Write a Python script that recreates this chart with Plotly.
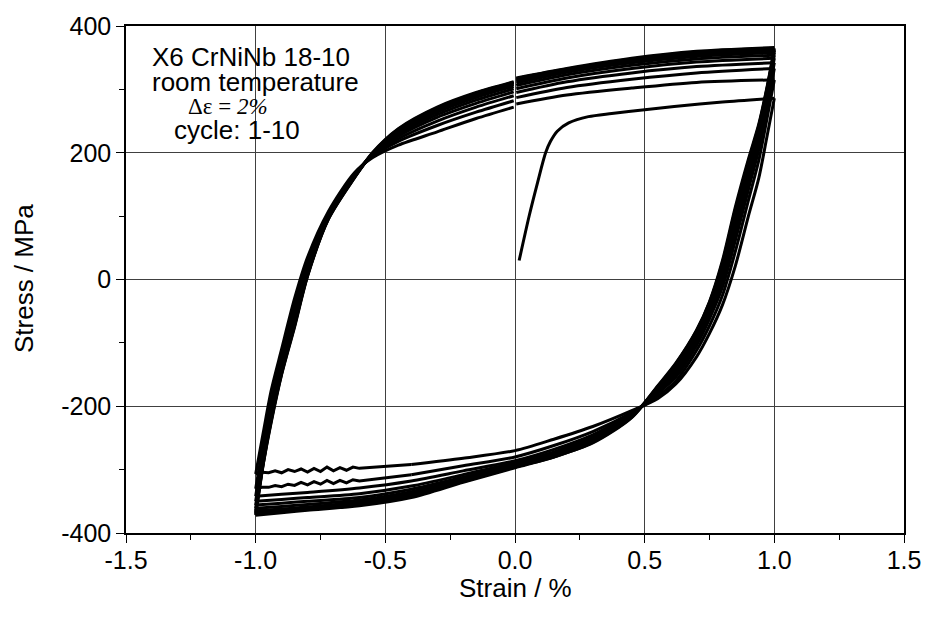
import plotly.graph_objects as go

# ---------------- data ----------------
# initial (monotonic) loading curve
init_strain = [0.016, 0.055, 0.087, 0.118, 0.137, 0.163, 0.207, 0.283, 0.373, 0.5, 0.614, 0.8, 1.0]
init_stress = [30, 101, 153, 200, 218, 234, 247, 257, 262, 268, 273, 280, 286]

# upper (tension-going) branches, strain grid and stress per cycle
upper_strain = [-1.0, -0.97, -0.94, -0.9, -0.85, -0.8, -0.72, -0.62, -0.55, -0.45,
                -0.3, -0.15, -0.005, 0.005, 0.2, 0.45, 0.7, 1.0]
upper_c1 = [-307, -240, -175, -110, -30, 35, 107, 168, 192, 212, 233, 254, 272, 277, 291, 302, 311, 315]
upper_c2 = [-330, -258, -192, -122, -42, 27, 104, 166, 194, 218, 243, 264, 282, 287, 303, 316, 326, 333]
upper_c3 = [-342, -267, -200, -130, -50, 22, 102, 165, 195, 222, 250, 272, 290, 295, 312, 326, 336, 342]
upper_c4 = [-350, -273, -206, -135, -56, 18, 100, 164, 196, 226, 256, 278, 296, 301, 318, 333, 343, 349]
upper_c5 = [-356, -278, -211, -139, -61, 14, 99, 163, 197, 229, 260, 283, 301, 306, 323, 338, 348, 354]
upper_c6 = [-361, -282, -215, -142, -65, 11, 98, 162, 198, 232, 264, 287, 305, 310, 327, 342, 352, 358]
upper_c7 = [-365, -285, -218, -145, -68, 9, 97, 161, 198, 234, 267, 290, 308, 313, 330, 345, 355, 361]
upper_c8 = [-368, -287, -221, -147, -71, 7, 96, 161, 199, 236, 269, 292, 310, 315, 331, 347, 357, 363]
upper_c9 = [-370, -289, -223, -149, -73, 6, 95, 160, 199, 237, 271, 294, 311, 317, 332, 348, 359, 365]
upper_c10 = [-372, -290, -225, -150, -75, 5, 95, 160, 200, 238, 272, 295, 312, 318, 333, 349, 360, 366]

# lower (compression-going) branches, strain grid and stress per cycle
lower_strain = [1.0, 0.97, 0.94, 0.9, 0.85, 0.8, 0.75, 0.7, 0.62, 0.55, 0.45, 0.3,
                0.15, 0.0, -0.2, -0.4, -0.6, -0.8, -0.9, -1.0]
lower_c1 = [286, 222, 160, 100, 22, -40, -85, -122, -165, -188, -207, -232, -252, -270, -282, -292]
lower_c2 = [315, 250, 188, 125, 45, -25, -73, -112, -160, -184, -210, -240, -262, -280, -294, -308]
lower_c3 = [333, 267, 205, 142, 62, -12, -62, -104, -154, -180, -212, -245, -268, -286, -302, -318, -329, -336, -339, -342]
lower_c4 = [342, 276, 215, 153, 75, -2, -55, -98, -149, -177, -213, -248, -272, -289, -308, -326, -338, -344, -347, -350]
lower_c5 = [349, 283, 224, 162, 85, 6, -49, -93, -145, -175, -214, -251, -275, -292, -312, -331, -344, -350, -353, -356]
lower_c6 = [354, 289, 231, 170, 94, 13, -44, -89, -141, -173, -215, -253, -277, -294, -315, -335, -348, -355, -358, -361]
lower_c7 = [358, 293, 236, 177, 102, 19, -40, -86, -138, -171, -216, -255, -278, -295, -317, -338, -351, -359, -362, -365]
lower_c8 = [361, 296, 240, 182, 107, 24, -38, -83, -135, -170, -217, -256, -279, -296, -318, -340, -353, -361, -365, -368]
lower_c9 = [363, 298, 243, 186, 111, 27, -36, -81, -133, -169, -217, -257, -280, -296, -319, -342, -355, -362, -366, -370]
lower_c10 = [365, 300, 245, 190, 115, 30, -35, -80, -132, -168, -218, -258, -280, -297, -320, -344, -357, -364, -368, -372]

# jagged (noisy) compression tails of cycles 1 and 2
tail_strain = [-0.4, -0.5, -0.6, -0.625, -0.65, -0.675, -0.7, -0.725, -0.75, -0.775, -0.8,
               -0.825, -0.85, -0.875, -0.9, -0.925, -0.95, -0.975, -1.0]
tail_c1 = [-292, -295, -298, -296, -301, -297, -302, -296, -303, -298, -304,
           -299, -303, -300, -305, -302, -305, -304, -307]
tail_c2 = [-308, -313, -318, -316, -321, -317, -322, -317, -323, -319, -324,
           -320, -325, -323, -327, -325, -328, -328, -330]

x_tickvals = [-1.5, -1.0, -0.5, 0.0, 0.5, 1.0, 1.5]
x_ticktext = ["-1.5", "-1.0", "-0.5", "0.0", "0.5", "1.0", "1.5"]
y_tickvals = [-400, -200, 0, 200, 400]
y_ticktext = ["-400", "-200", "0", "200", "400"]

upper_branches = [upper_c1, upper_c2, upper_c3, upper_c4, upper_c5,
                  upper_c6, upper_c7, upper_c8, upper_c9, upper_c10]
lower_branches = [lower_c1, lower_c2, lower_c3, lower_c4, lower_c5,
                  lower_c6, lower_c7, lower_c8, lower_c9, lower_c10]
tails = [tail_c1, tail_c2]

# ---------------- figure ----------------
LINE = dict(color="black", width=3, shape="spline", smoothing=0.8)
LINE_LIN = dict(color="black", width=3, shape="linear")
FONT = "Liberation Sans, Arial, Helvetica, sans-serif"

fig = go.Figure()


def add_line(xs, ys, line=LINE):
    fig.add_trace(go.Scatter(x=xs, y=ys, mode="lines", line=line,
                             showlegend=False, hoverinfo="skip"))


add_line(init_strain, init_stress)
split = upper_strain.index(0.005)
for lo, up in zip(lower_branches, upper_branches):
    add_line(lower_strain[:len(lo)], lo)
    add_line(upper_strain[:split], up[:split])
    add_line(upper_strain[split:], up[split:])
for tl in tails:
    add_line(tail_strain, tl, LINE_LIN)

axis_common = dict(
    showline=True, linecolor="black", linewidth=1.5, mirror=True,
    ticks="outside", ticklen=8, tickwidth=1.2, tickcolor="black",
    showgrid=True, gridcolor="#404040", gridwidth=1, zeroline=False,
    tickfont=dict(family=FONT, size=25, color="black"),
)

fig.update_xaxes(range=[-1.5, 1.5], tickmode="array", tickvals=x_tickvals, ticktext=x_ticktext,
                 minor=dict(dtick=0.25, ticks="outside", ticklen=5, tickcolor="black", showgrid=False),
                 ticklabelstandoff=-4, **axis_common)
fig.update_yaxes(range=[-400, 400], tickmode="array", tickvals=y_tickvals, ticktext=y_ticktext,
                 minor=dict(dtick=100, ticks="outside", ticklen=5, tickcolor="black", showgrid=False),
                 ticklabelstandoff=0, **axis_common)

W, H = 933, 618
L, R, T, B = 126, 21, 22, 85
pw, ph = W - L - R, H - T - B


def px(x):
    return (x - L) / pw


def py(y):
    return (H - B - y) / ph


fig.add_shape(type="rect", xref="paper", yref="paper", x0=px(135), x1=px(365),
              y0=py(148), y1=py(33), fillcolor="white", line=dict(width=0), layer="between")

ann = []
ann.append(dict(text="X6 CrNiNb 18-10", x=px(150), y=py(53), font=dict(family=FONT, size=26)))
ann.append(dict(text="room temperature", x=px(150), y=py(78), font=dict(family=FONT, size=26)))
ann.append(dict(text="\u0394\u03b5 = <i>2%</i>", x=px(187), y=py(103),
                font=dict(family="Liberation Serif, Times New Roman, serif", size=23)))
ann.append(dict(text="cycle: 1-10", x=px(172), y=py(127), font=dict(family=FONT, size=26)))
for a in ann:
    a.update(xref="paper", yref="paper", xanchor="left", yanchor="middle", showarrow=False)
    a["font"]["color"] = "black"
    fig.add_annotation(**a)

fig.add_annotation(text="Strain / %", x=px(519), y=py(588), xref="paper", yref="paper",
                   xanchor="center", yanchor="middle", showarrow=False,
                   font=dict(family=FONT, size=26, color="black"))
fig.add_annotation(text="Stress / MPa", x=px(23), y=py(277), xref="paper", yref="paper",
                   xanchor="center", yanchor="middle", showarrow=False, textangle=-90,
                   font=dict(family=FONT, size=26, color="black"))

fig.update_layout(width=W, height=H, margin=dict(l=L, r=R, t=T, b=B),
                  paper_bgcolor="white", plot_bgcolor="white")

fig.write_html("out.html")
